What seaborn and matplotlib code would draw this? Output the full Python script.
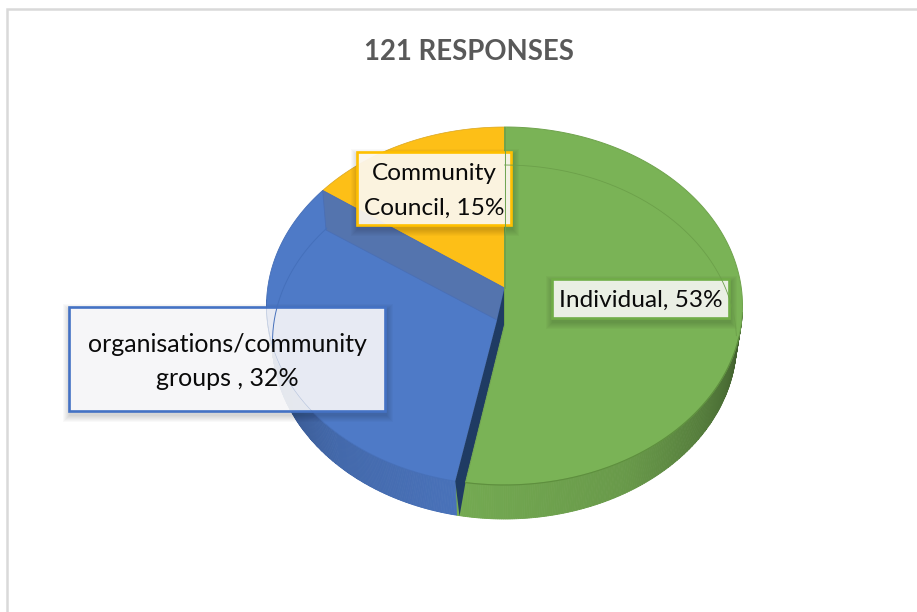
import numpy as np
import matplotlib
matplotlib.use("Agg")
import matplotlib.pyplot as plt
from matplotlib.patches import Polygon, Rectangle
import seaborn as sns

categories = ["Individual", "organisations/community\ngroups ", "Community\nCouncil"]
shares = [53, 32, 15]
title = "121 RESPONSES"

sns.set_theme(style="white")
plt.rcParams["font.family"] = ["Lato", "DejaVu Sans"]
pal = sns.color_palette(["#7AB356", "#4E7AC7", "#FDBF17"])

fig = plt.figure(figsize=(9.17, 6.12), dpi=100)
ax = fig.add_axes([0, 0, 1, 1])
ax.set_xlim(0, 917)
ax.set_ylim(612, 0)
ax.axis("off")

# chart frame, runs off the crop on the right and bottom
ax.plot([7, 7, 917], [612, 9, 9], color="#D9D9D9", lw=1.8, solid_joinstyle="miter")
ax.text(468.5, 51.5, title, ha="center", va="center", fontsize=19.8, fontweight="bold", color="#595959")

CX = 504.5
TOP = (238, 179, 306)  # rx, ry, cy of top rim
BOT = (232, 177, 342)
APEX_TOP = (CX, 288)
APEX_BOT = (CX, 325)


def persp(deg):
    # slices meet above the ellipse centre because of the 3d tilt
    t = np.radians(deg)
    return np.degrees(np.arctan2(np.sin(t), np.cos(t) + 0.096)) % 360


def rim(deg, e=TOP):
    t = np.radians(deg)
    return np.column_stack([CX + e[0] * np.sin(t), e[2] - e[1] * np.cos(t)])


def arc(a, b, e=TOP, n=160):
    return rim(np.linspace(a, b, n), e)


def shade(c, f):
    return tuple(np.array(c) * f)


# slice edges, clockwise from 12 o'clock
green_end = persp(shares[0] / 100 * 360)
yellow_start = persp(360 - shares[2] / 100 * 360)
green_face_end = green_end - 2.5

# extruded side, drawn as thin strips so it can darken towards the edges
def side(a, b, c_from, c_to, n=90):
    edges = np.linspace(a, b, n + 1)
    for i in range(n):
        p = np.vstack([arc(edges[i], edges[i + 1], TOP, 4), arc(edges[i + 1], edges[i], BOT, 4)])
        f = i / (n - 1)
        col = tuple(np.array(c_from) * (1 - f) + np.array(c_to) * f)
        ax.add_patch(Polygon(p, closed=True, fc=col, ec=col, lw=0.6))


side(green_end, 150, shade(pal[0], 0.95), shade(pal[0], 0.86))
side(150, 92, shade(pal[0], 0.86), shade(pal[0], 0.52))
side(green_end, 225, shade(pal[1], 0.93), shade(pal[1], 0.86))
side(225, 272, shade(pal[1], 0.86), shade(pal[1], 0.62))

# faces
end_pt = rim(green_end)[0]
bot_pt = rim(green_end, BOT)[0]
wall_in = np.array([497, 320])

blue_face = np.vstack([[APEX_TOP], arc(yellow_start, green_end), [wall_in]])
ax.add_patch(Polygon(blue_face, closed=True, fc=pal[1], ec="#4A74BE", lw=0.6))

yellow_face = np.vstack([[APEX_TOP], arc(yellow_start, 360, TOP)])
ax.add_patch(Polygon(yellow_face, closed=True, fc=pal[2], ec="#D9A520", lw=0.5))

# cut wall of the blue slice seen through the top
ys = rim(yellow_start)[0]
band = [ys, APEX_TOP, wall_in, (326, 230)]
ax.add_patch(Polygon(band, closed=True, fc="#5474AE", ec="#4A6FB5", lw=0.6))

# dark wall between blue and green
green_in = rim(green_face_end)[0]
dark = [APEX_TOP, APEX_BOT, green_in, (bot_pt[0] + 3, bot_pt[1] + 1), end_pt, wall_in]
ax.add_patch(Polygon(dark, closed=True, fc="#1F3B63", ec="none"))

green_face = np.vstack([[APEX_BOT], arc(0, green_face_end)])
ax.add_patch(Polygon(green_face, closed=True, fc=pal[0], ec="#6FA34D", lw=0.7))
# green rises to the top of the pie along the yellow edge
ax.add_patch(Polygon([(CX, 127), APEX_TOP, APEX_BOT, (CX + 2, 325), (CX + 2, 127)], closed=True, fc=pal[0], ec="none"))

# rim lines
ax.plot(*arc(yellow_start, green_end).T, color="#3F64A8", lw=0.4, alpha=0.3)
ax.plot(*arc(100, green_face_end).T, color="#5E8F3E", lw=0.8)
ax.plot(*arc(0, 88, BOT).T, color="#6CA04A", lw=0.6)
ax.plot(*arc(268, 310, BOT).T, color="#4570BB", lw=0.7)
ax.plot([CX, CX], [127, 288], color="#6FA34D", lw=0.7)


def label(x0, y0, x1, y1, txt, edge, face, alpha, fs, spacing, dy):
    # soft drop shadow from stacked rectangles
    for k in range(7, 0, -1):
        ax.add_patch(Rectangle((x0 + 1 - k, y0 + 4 - k), x1 - x0 + 2 * k, y1 - y0 + 2 * k,
                               fc="#000000", ec="none", alpha=0.022))
    ax.add_patch(Rectangle((x0, y0), x1 - x0, y1 - y0, fc=face, ec="none", alpha=alpha))
    ax.add_patch(Rectangle((x0, y0), x1 - x0, y1 - y0, fc="none", ec=edge, lw=1.9))
    ax.text((x0 + x1) / 2, (y0 + y1) / 2 + dy, txt, ha="center", va="center", fontsize=fs,
            color="#0A0A0A", linespacing=spacing)


label(552, 279, 729, 318, f"{categories[0]}, {shares[0]}%", "#70AD47", "#F6F8F3", 0.92, 17.6, 1.55, 1.5)
label(69, 307, 385, 411, f"{categories[1]}, {shares[1]}%", "#4472C4", "#FAFAFC", 0.9, 18, 1.55, 2.5)
label(357, 152, 511, 225, f"{categories[2]}, {shares[2]}%", "#FFC000", "#FFFAF0", 0.93, 17.6, 1.8, 2.5)

fig.savefig("out.png", dpi=100)
